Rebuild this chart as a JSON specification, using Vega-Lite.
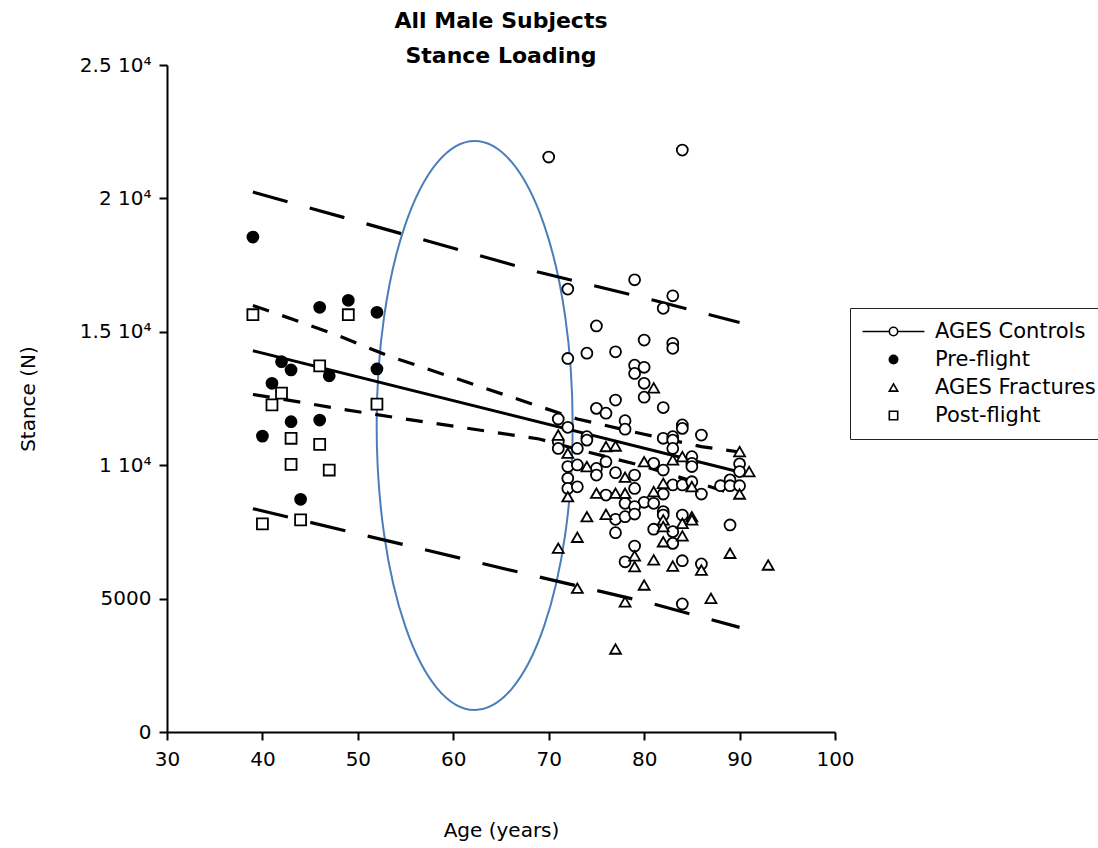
{
  "$schema": "https://vega.github.io/schema/vega-lite/v6.json",
  "width": 668,
  "height": 667,
  "autosize": {"type": "none"},
  "padding": {"left": 167, "top": 65, "right": 263, "bottom": 116},
  "background": "white",
  "title": {
    "text": ["All Male Subjects", "Stance Loading"],
    "font": "DejaVu Sans",
    "fontSize": 22,
    "fontWeight": "bold",
    "lineHeight": 35,
    "anchor": "middle",
    "color": "black",
    "offset": -13
  },
  "datasets": {
    "points": [
      {"age": 70, "v": 21550, "group": "AGES Controls"},
      {"age": 84, "v": 21810, "group": "AGES Controls"},
      {"age": 72, "v": 16600, "group": "AGES Controls"},
      {"age": 79, "v": 16950, "group": "AGES Controls"},
      {"age": 83, "v": 16350, "group": "AGES Controls"},
      {"age": 82, "v": 15880, "group": "AGES Controls"},
      {"age": 75, "v": 15220, "group": "AGES Controls"},
      {"age": 80, "v": 14690, "group": "AGES Controls"},
      {"age": 83, "v": 14570, "group": "AGES Controls"},
      {"age": 83, "v": 14380, "group": "AGES Controls"},
      {"age": 72, "v": 14000, "group": "AGES Controls"},
      {"age": 74, "v": 14200, "group": "AGES Controls"},
      {"age": 77, "v": 14250, "group": "AGES Controls"},
      {"age": 79, "v": 13750, "group": "AGES Controls"},
      {"age": 80, "v": 13670, "group": "AGES Controls"},
      {"age": 79, "v": 13440, "group": "AGES Controls"},
      {"age": 80, "v": 13070, "group": "AGES Controls"},
      {"age": 80, "v": 12550, "group": "AGES Controls"},
      {"age": 77, "v": 12440, "group": "AGES Controls"},
      {"age": 82, "v": 12160, "group": "AGES Controls"},
      {"age": 75, "v": 12130, "group": "AGES Controls"},
      {"age": 76, "v": 11950, "group": "AGES Controls"},
      {"age": 71, "v": 11730, "group": "AGES Controls"},
      {"age": 72, "v": 11420, "group": "AGES Controls"},
      {"age": 78, "v": 11670, "group": "AGES Controls"},
      {"age": 78, "v": 11350, "group": "AGES Controls"},
      {"age": 84, "v": 11510, "group": "AGES Controls"},
      {"age": 84, "v": 11380, "group": "AGES Controls"},
      {"age": 86, "v": 11130, "group": "AGES Controls"},
      {"age": 71, "v": 10880, "group": "AGES Controls"},
      {"age": 71, "v": 10630, "group": "AGES Controls"},
      {"age": 74, "v": 11070, "group": "AGES Controls"},
      {"age": 74, "v": 10940, "group": "AGES Controls"},
      {"age": 73, "v": 10630, "group": "AGES Controls"},
      {"age": 72, "v": 9950, "group": "AGES Controls"},
      {"age": 72, "v": 9510, "group": "AGES Controls"},
      {"age": 72, "v": 9130, "group": "AGES Controls"},
      {"age": 73, "v": 10010, "group": "AGES Controls"},
      {"age": 73, "v": 9190, "group": "AGES Controls"},
      {"age": 75, "v": 9880, "group": "AGES Controls"},
      {"age": 75, "v": 9630, "group": "AGES Controls"},
      {"age": 76, "v": 10130, "group": "AGES Controls"},
      {"age": 77, "v": 9720, "group": "AGES Controls"},
      {"age": 79, "v": 9630, "group": "AGES Controls"},
      {"age": 79, "v": 9130, "group": "AGES Controls"},
      {"age": 81, "v": 10070, "group": "AGES Controls"},
      {"age": 82, "v": 9820, "group": "AGES Controls"},
      {"age": 82, "v": 8920, "group": "AGES Controls"},
      {"age": 82, "v": 11010, "group": "AGES Controls"},
      {"age": 83, "v": 11070, "group": "AGES Controls"},
      {"age": 83, "v": 10940, "group": "AGES Controls"},
      {"age": 83, "v": 10630, "group": "AGES Controls"},
      {"age": 83, "v": 9260, "group": "AGES Controls"},
      {"age": 84, "v": 9260, "group": "AGES Controls"},
      {"age": 85, "v": 10320, "group": "AGES Controls"},
      {"age": 85, "v": 10070, "group": "AGES Controls"},
      {"age": 85, "v": 9950, "group": "AGES Controls"},
      {"age": 85, "v": 9380, "group": "AGES Controls"},
      {"age": 86, "v": 8920, "group": "AGES Controls"},
      {"age": 88, "v": 9230, "group": "AGES Controls"},
      {"age": 89, "v": 9450, "group": "AGES Controls"},
      {"age": 89, "v": 9230, "group": "AGES Controls"},
      {"age": 90, "v": 9230, "group": "AGES Controls"},
      {"age": 90, "v": 10050, "group": "AGES Controls"},
      {"age": 90, "v": 9760, "group": "AGES Controls"},
      {"age": 80, "v": 8610, "group": "AGES Controls"},
      {"age": 81, "v": 8570, "group": "AGES Controls"},
      {"age": 78, "v": 8570, "group": "AGES Controls"},
      {"age": 79, "v": 8450, "group": "AGES Controls"},
      {"age": 76, "v": 8880, "group": "AGES Controls"},
      {"age": 82, "v": 8260, "group": "AGES Controls"},
      {"age": 82, "v": 8130, "group": "AGES Controls"},
      {"age": 81, "v": 7600, "group": "AGES Controls"},
      {"age": 83, "v": 7510, "group": "AGES Controls"},
      {"age": 84, "v": 8130, "group": "AGES Controls"},
      {"age": 77, "v": 7970, "group": "AGES Controls"},
      {"age": 78, "v": 8070, "group": "AGES Controls"},
      {"age": 79, "v": 8170, "group": "AGES Controls"},
      {"age": 77, "v": 7470, "group": "AGES Controls"},
      {"age": 79, "v": 6970, "group": "AGES Controls"},
      {"age": 78, "v": 6380, "group": "AGES Controls"},
      {"age": 84, "v": 6420, "group": "AGES Controls"},
      {"age": 83, "v": 7070, "group": "AGES Controls"},
      {"age": 86, "v": 6300, "group": "AGES Controls"},
      {"age": 89, "v": 7760, "group": "AGES Controls"},
      {"age": 84, "v": 4800, "group": "AGES Controls"},
      {"age": 81, "v": 12900, "group": "AGES Fractures"},
      {"age": 71, "v": 11130, "group": "AGES Fractures"},
      {"age": 72, "v": 10450, "group": "AGES Fractures"},
      {"age": 72, "v": 8820, "group": "AGES Fractures"},
      {"age": 74, "v": 9950, "group": "AGES Fractures"},
      {"age": 76, "v": 10700, "group": "AGES Fractures"},
      {"age": 77, "v": 10720, "group": "AGES Fractures"},
      {"age": 78, "v": 9550, "group": "AGES Fractures"},
      {"age": 80, "v": 10130, "group": "AGES Fractures"},
      {"age": 82, "v": 9320, "group": "AGES Fractures"},
      {"age": 83, "v": 10200, "group": "AGES Fractures"},
      {"age": 84, "v": 10320, "group": "AGES Fractures"},
      {"age": 85, "v": 9200, "group": "AGES Fractures"},
      {"age": 90, "v": 10510, "group": "AGES Fractures"},
      {"age": 91, "v": 9760, "group": "AGES Fractures"},
      {"age": 90, "v": 8920, "group": "AGES Fractures"},
      {"age": 81, "v": 9010, "group": "AGES Fractures"},
      {"age": 75, "v": 8950, "group": "AGES Fractures"},
      {"age": 77, "v": 8950, "group": "AGES Fractures"},
      {"age": 78, "v": 8950, "group": "AGES Fractures"},
      {"age": 82, "v": 7950, "group": "AGES Fractures"},
      {"age": 82, "v": 7700, "group": "AGES Fractures"},
      {"age": 84, "v": 7820, "group": "AGES Fractures"},
      {"age": 85, "v": 8070, "group": "AGES Fractures"},
      {"age": 85, "v": 7950, "group": "AGES Fractures"},
      {"age": 74, "v": 8070, "group": "AGES Fractures"},
      {"age": 76, "v": 8160, "group": "AGES Fractures"},
      {"age": 73, "v": 7300, "group": "AGES Fractures"},
      {"age": 71, "v": 6890, "group": "AGES Fractures"},
      {"age": 79, "v": 6600, "group": "AGES Fractures"},
      {"age": 79, "v": 6200, "group": "AGES Fractures"},
      {"age": 81, "v": 6450, "group": "AGES Fractures"},
      {"age": 83, "v": 6220, "group": "AGES Fractures"},
      {"age": 84, "v": 7350, "group": "AGES Fractures"},
      {"age": 82, "v": 7130, "group": "AGES Fractures"},
      {"age": 86, "v": 6070, "group": "AGES Fractures"},
      {"age": 89, "v": 6700, "group": "AGES Fractures"},
      {"age": 93, "v": 6260, "group": "AGES Fractures"},
      {"age": 80, "v": 5510, "group": "AGES Fractures"},
      {"age": 73, "v": 5390, "group": "AGES Fractures"},
      {"age": 78, "v": 4880, "group": "AGES Fractures"},
      {"age": 87, "v": 5010, "group": "AGES Fractures"},
      {"age": 77, "v": 3110, "group": "AGES Fractures"},
      {"age": 39, "v": 18550, "group": "Pre-flight"},
      {"age": 40, "v": 11090, "group": "Pre-flight"},
      {"age": 41, "v": 13070, "group": "Pre-flight"},
      {"age": 42, "v": 13880, "group": "Pre-flight"},
      {"age": 43, "v": 13570, "group": "Pre-flight"},
      {"age": 43, "v": 11630, "group": "Pre-flight"},
      {"age": 44, "v": 8720, "group": "Pre-flight"},
      {"age": 46, "v": 15920, "group": "Pre-flight"},
      {"age": 46, "v": 11690, "group": "Pre-flight"},
      {"age": 47, "v": 13350, "group": "Pre-flight"},
      {"age": 49, "v": 16180, "group": "Pre-flight"},
      {"age": 52, "v": 15730, "group": "Pre-flight"},
      {"age": 52, "v": 13610, "group": "Pre-flight"},
      {"age": 39, "v": 15640, "group": "Post-flight"},
      {"age": 40, "v": 7800, "group": "Post-flight"},
      {"age": 41, "v": 12260, "group": "Post-flight"},
      {"age": 42, "v": 12700, "group": "Post-flight"},
      {"age": 43, "v": 11010, "group": "Post-flight"},
      {"age": 43, "v": 10030, "group": "Post-flight"},
      {"age": 44, "v": 7950, "group": "Post-flight"},
      {"age": 46, "v": 13720, "group": "Post-flight"},
      {"age": 46, "v": 10780, "group": "Post-flight"},
      {"age": 47, "v": 9820, "group": "Post-flight"},
      {"age": 49, "v": 15640, "group": "Post-flight"},
      {"age": 52, "v": 12290, "group": "Post-flight"}
    ],
    "lines": [
      {"series": "reg", "age": 39, "v": 14292},
      {"series": "reg", "age": 90, "v": 9745},
      {"series": "ciUpper", "age": 39, "v": 15986},
      {"series": "ciUpper", "age": 44, "v": 15367},
      {"series": "ciUpper", "age": 48, "v": 14850},
      {"series": "ciUpper", "age": 53, "v": 14123},
      {"series": "ciUpper", "age": 69, "v": 12204},
      {"series": "ciUpper", "age": 73, "v": 11732},
      {"series": "ciUpper", "age": 80, "v": 11158},
      {"series": "ciUpper", "age": 86, "v": 10697},
      {"series": "ciUpper", "age": 90, "v": 10495},
      {"series": "ciLower", "age": 39, "v": 12650},
      {"series": "ciLower", "age": 44, "v": 12365},
      {"series": "ciLower", "age": 48, "v": 12114},
      {"series": "ciLower", "age": 54, "v": 11784},
      {"series": "ciLower", "age": 69, "v": 10982},
      {"series": "ciLower", "age": 73, "v": 10596},
      {"series": "ciLower", "age": 80, "v": 9959},
      {"series": "ciLower", "age": 86, "v": 9295},
      {"series": "ciLower", "age": 90, "v": 8846},
      {"series": "piUpper", "age": 39, "v": 20240},
      {"series": "piUpper", "age": 69, "v": 17230},
      {"series": "piUpper", "age": 81, "v": 16184},
      {"series": "piUpper", "age": 90, "v": 15349},
      {"series": "piLower", "age": 39, "v": 8370},
      {"series": "piLower", "age": 69, "v": 5810},
      {"series": "piLower", "age": 81, "v": 4801},
      {"series": "piLower", "age": 90, "v": 3921}
    ],
    "ellipse": [
      {"ord": 0, "age": 72.51, "v": 11488},
      {"ord": 1, "age": 71.73, "v": 15569},
      {"ord": 2, "age": 69.5, "v": 19028},
      {"ord": 3, "age": 66.17, "v": 21340},
      {"ord": 4, "age": 62.24, "v": 22151},
      {"ord": 5, "age": 58.31, "v": 21340},
      {"ord": 6, "age": 54.98, "v": 19028},
      {"ord": 7, "age": 52.75, "v": 15569},
      {"ord": 8, "age": 51.97, "v": 11488},
      {"ord": 9, "age": 52.75, "v": 7407},
      {"ord": 10, "age": 54.98, "v": 3948},
      {"ord": 11, "age": 58.31, "v": 1636},
      {"ord": 12, "age": 62.24, "v": 825},
      {"ord": 13, "age": 66.17, "v": 1636},
      {"ord": 14, "age": 69.5, "v": 3948},
      {"ord": 15, "age": 71.73, "v": 7407}
    ]
  },
  "encoding": {
    "x": {
      "field": "age",
      "type": "quantitative",
      "scale": {"domain": [30, 100], "nice": false, "zero": false},
      "axis": {
        "title": "Age (years)",
        "values": [30, 40, 50, 60, 70, 80, 90, 100],
        "labelFlush": false,
        "labelPadding": 9,
        "titlePadding": 51
      }
    },
    "y": {
      "field": "v",
      "type": "quantitative",
      "scale": {"domain": [0, 25000], "nice": false},
      "axis": {
        "title": "Stance (N)",
        "values": [0, 5000, 10000, 15000, 20000, 25000],
        "labelFlush": false,
        "labelExpr": "datum.value == 0 ? '0' : datum.value == 5000 ? '5000' : (datum.value / 10000) + ' 10⁴'",
        "labelPadding": 8,
        "titlePadding": 41
      }
    }
  },
  "layer": [
    {
      "data": {"name": "ellipse"},
      "mark": {"type": "line", "interpolate": "cardinal-closed", "color": "#4a7ebb", "strokeWidth": 2},
      "encoding": {"order": {"field": "ord", "type": "quantitative"}}
    },
    {
      "data": {"name": "lines"},
      "transform": [{"filter": "datum.series == 'piUpper' || datum.series == 'piLower'"}],
      "mark": {"type": "line", "color": "black", "strokeWidth": 3.2, "strokeDash": [36, 23]},
      "encoding": {"detail": {"field": "series"}}
    },
    {
      "data": {"name": "lines"},
      "transform": [{"filter": "datum.series == 'ciUpper' || datum.series == 'ciLower'"}],
      "mark": {"type": "line", "color": "black", "strokeWidth": 3.2, "strokeDash": [17, 14]},
      "encoding": {"detail": {"field": "series"}}
    },
    {
      "data": {"name": "lines"},
      "transform": [{"filter": "datum.series == 'reg'"}],
      "mark": {"type": "line", "color": "black", "strokeWidth": 3},
      "encoding": {"detail": {"field": "series"}}
    },
    {
      "data": {"name": "points"},
      "mark": {"type": "point", "filled": false, "stroke": "black", "strokeWidth": 1.8, "size": 120, "opacity": 1},
      "encoding": {
        "shape": {
          "field": "group",
          "type": "nominal",
          "scale": {"domain": ["AGES Controls", "Pre-flight", "AGES Fractures", "Post-flight"], "range": ["circle", "circle", "triangle-up", "square"]},
          "legend": null
        },
        "fill": {
          "field": "group",
          "type": "nominal",
          "scale": {"domain": ["AGES Controls", "Pre-flight", "AGES Fractures", "Post-flight"], "range": ["white", "black", "white", "white"]},
          "legend": null
        }
      }
    },
    {
      "data": {"name": "points"},
      "transform": [{"filter": "false"}],
      "mark": {"type": "point", "stroke": "black", "strokeWidth": 1.6, "opacity": 1},
      "encoding": {
        "shape": {
          "field": "group",
          "type": "nominal",
          "scale": {"domain": ["AGES Controls", "Pre-flight", "AGES Fractures", "Post-flight"], "range": ["M-7.4,0H-1M1,0H7.4M-1,0A1,1 0 1,0 1,0A1,1 0 1,0 -1,0", "circle", "triangle-up", "square"]},
          "legend": {
            "title": null,
            "orient": "none",
            "legendX": 683,
            "legendY": 243,
            "padding": 13,
            "symbolOffset": 20,
            "labelOffset": 31,
            "symbolSize": 70,
            "symbolStrokeWidth": 1.6,
            "rowPadding": 6,
            "strokeColor": "#222",
            "fillColor": "white",
            "labelFont": "DejaVu Sans",
            "labelFontSize": 21,
            "labelColor": "black",
            "labelLimit": 400
          }
        },
        "fill": {
          "field": "group",
          "type": "nominal",
          "scale": {"domain": ["AGES Controls", "Pre-flight", "AGES Fractures", "Post-flight"], "range": ["white", "black", "white", "white"]},
          "legend": {
            "title": null,
            "orient": "none",
            "legendX": 683,
            "legendY": 243,
            "padding": 13,
            "symbolOffset": 20,
            "labelOffset": 31,
            "symbolSize": 70,
            "symbolStrokeWidth": 1.6,
            "rowPadding": 6,
            "strokeColor": "#222",
            "fillColor": "white",
            "labelFont": "DejaVu Sans",
            "labelFontSize": 21,
            "labelColor": "black",
            "labelLimit": 400
          }
        }
      }
    }
  ],
  "resolve": {"scale": {"shape": "independent", "fill": "independent"}, "legend": {"shape": "independent", "fill": "independent"}},
  "config": {
    "view": {"stroke": null},
    "axis": {
      "grid": false,
      "domainColor": "black",
      "domainWidth": 2,
      "tickColor": "black",
      "tickWidth": 2,
      "tickSize": 8,
      "labelFont": "DejaVu Sans",
      "labelFontSize": 20,
      "labelColor": "black",
      "titleFont": "DejaVu Sans",
      "titleFontSize": 20,
      "titleFontWeight": "normal",
      "titleColor": "black"
    }
  }
}
